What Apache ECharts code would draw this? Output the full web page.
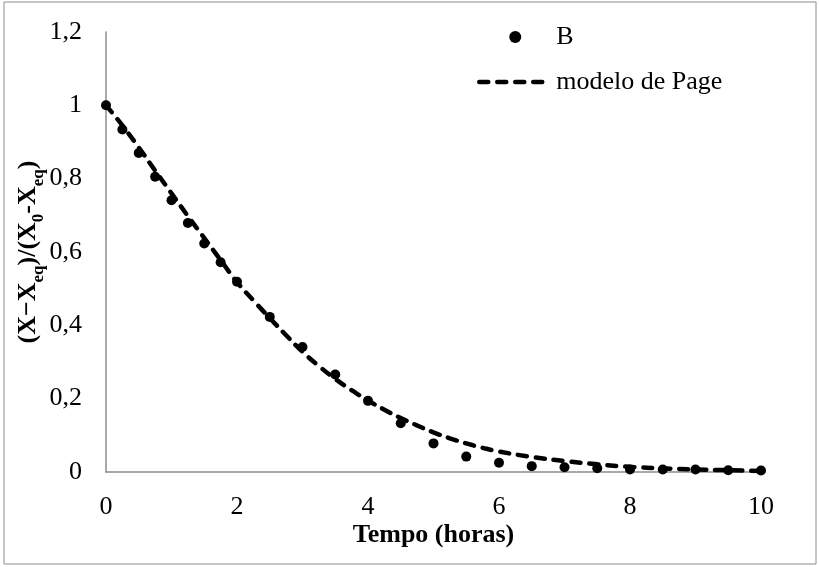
<!DOCTYPE html>
<html>
<head>
<meta charset="utf-8">
<script src="https://cdn.jsdelivr.net/npm/echarts@6/dist/echarts.min.js"></script>
<style>
html,body{margin:0;padding:0;background:#fff;}
#chart{width:819px;height:567px;}
</style>
</head>
<body>
<div id="chart"></div>
<script>
// Observed data (series "B")
var timeB = [0, 0.25, 0.5, 0.75, 1, 1.25, 1.5, 1.75, 2, 2.5, 3, 3.5, 4, 4.5, 5, 5.5, 6, 6.5, 7, 7.5, 8, 8.5, 9, 9.5, 10];
var valuesB = [1.0, 0.934, 0.870, 0.805, 0.741, 0.679, 0.623, 0.572, 0.519, 0.423, 0.341, 0.266, 0.194, 0.133, 0.078, 0.042, 0.025, 0.016, 0.013, 0.010, 0.007, 0.007, 0.007, 0.005, 0.004];

// Page model curve
var timeModel = [0, 0.25, 0.5, 0.75, 1, 1.25, 1.5, 1.75, 2, 2.25, 2.5, 2.75, 3, 3.25, 3.5, 3.75, 4, 4.25, 4.5, 4.75, 5, 5.25, 5.5, 5.75, 6, 6.5, 7, 7.5, 8, 8.5, 9, 9.5, 10];
var valuesModel = [1.0, 0.945, 0.885, 0.822, 0.760, 0.698, 0.638, 0.578, 0.518, 0.468, 0.420, 0.373, 0.328, 0.289, 0.254, 0.223, 0.195, 0.170, 0.147, 0.127, 0.108, 0.092, 0.078, 0.066, 0.056, 0.041, 0.030, 0.021, 0.014, 0.010, 0.007, 0.005, 0.003];

var xTicks = [0, 2, 4, 6, 8, 10];
var yTicks = ['0', '0,2', '0,4', '0,6', '0,8', '1', '1,2'];

var seriesNames = ['B', 'modelo de Page'];
var xTitle = 'Tempo (horas)';

var FONT = "'Liberation Serif', 'Times New Roman', serif";

function pairs(xs, ys) { return xs.map(function (x, i) { return [x, ys[i]]; }); }

var chart = echarts.init(document.getElementById('chart'), null, {renderer: 'canvas'});
chart.setOption({
  animation: false,
  backgroundColor: '#fff',
  textStyle: {fontFamily: FONT, color: '#000'},
  graphic: [{
    type: 'rect', shape: {x: 4, y: 2, width: 812, height: 562},
    style: {fill: 'none', stroke: '#8c8c8c', lineWidth: 1}, silent: true, z: -1
  }],
  grid: {left: 106, right: 58, top: 32, bottom: 95, containLabel: false},
  legend: {
    orient: 'vertical', left: 477, top: 24, padding: 0,
    itemWidth: 72, itemHeight: 12, itemGap: 19,
    textStyle: {fontFamily: FONT, fontSize: 26, color: '#000'},
    lineStyle: {width: 4.5, type: [9, 9], cap: 'round', color: '#000'},
    data: [
      {name: seriesNames[0], itemStyle: {color: '#000', opacity: 1}},
      {name: seriesNames[1], itemStyle: {opacity: 0}}
    ]
  },
  xAxis: {
    type: 'value', min: 0, max: 10, interval: 2,
    axisLine: {lineStyle: {color: '#8c8c8c', width: 1.5}},
    axisTick: {show: false},
    splitLine: {show: false},
    axisLabel: {fontFamily: FONT, fontSize: 26, color: '#000', margin: 22,
      formatter: function (v) { return xTicks.indexOf(v) >= 0 ? String(v) : ''; }},
    name: xTitle, nameLocation: 'middle', nameGap: 50, nameMoveOverlap: false,
    nameTextStyle: {fontFamily: FONT, fontSize: 26, fontWeight: 'bold', color: '#000'}
  },
  yAxis: {
    type: 'value', min: 0, max: 1.2, interval: 0.2,
    axisLine: {show: true, lineStyle: {color: '#8c8c8c', width: 1.5}},
    axisTick: {show: false},
    splitLine: {show: false},
    axisLabel: {fontFamily: FONT, fontSize: 26, color: '#000', margin: 24,
      formatter: function (v) { return yTicks[Math.round(v / 0.2)]; }},
    name: '{b|(X−X}{s|eq}{b|)/(X}{s|0}{b|-X}{s|eq}{b|)}',
    nameLocation: 'middle', nameRotate: 90, nameGap: 65, nameMoveOverlap: false,
    nameTextStyle: {
      fontFamily: FONT, color: '#000',
      rich: {
        b: {fontFamily: FONT, fontSize: 26, fontWeight: 'bold', color: '#000', lineHeight: 30, verticalAlign: 'bottom'},
        s: {fontFamily: FONT, fontSize: 17, fontWeight: 'bold', color: '#000', lineHeight: 30, verticalAlign: 'bottom', padding: [0, 0, -6, 0]}
      }
    }
  },
  series: [
    {
      name: seriesNames[0], type: 'scatter', symbol: 'circle', symbolSize: 10,
      itemStyle: {color: '#000', opacity: 1}, z: 3,
      data: pairs(timeB, valuesB)
    },
    {
      name: seriesNames[1], type: 'line', smooth: true, symbol: 'none', showSymbol: false,
      lineStyle: {color: '#000', width: 4.5, type: [9, 9], cap: 'round'},
      itemStyle: {color: '#000'}, z: 2,
      data: pairs(timeModel, valuesModel)
    }
  ]
});
</script>
</body>
</html>
